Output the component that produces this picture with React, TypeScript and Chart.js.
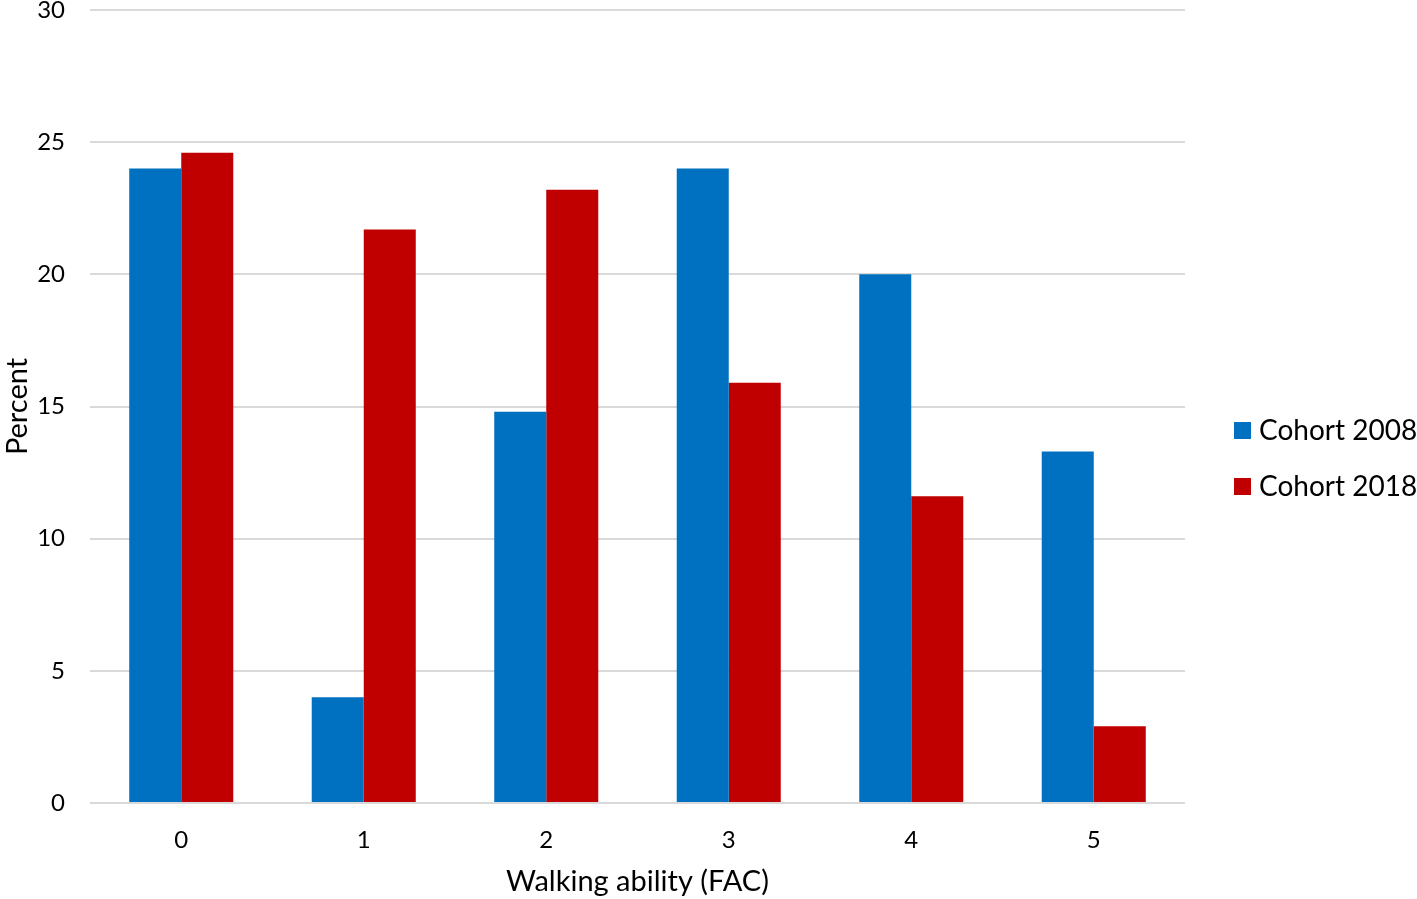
import React, { useEffect, useRef } from "react";
import { Chart, registerables } from "chart.js";

Chart.register(...registerables);

const categories = ["0", "1", "2", "3", "4", "5"];
const cohort2008 = [24, 4, 14.8, 24, 20, 13.3];
const cohort2018 = [24.6, 21.7, 23.2, 15.9, 11.6, 2.9];
const seriesLabels = ["Cohort 2008", "Cohort 2018"];
const seriesColors = ["#0070C0", "#C00000"];
const yTitle = "Percent";
const xTitle = "Walking ability (FAC)";

const FONT = "Lato, 'Open Sans', sans-serif";

const legendPlugin = {
  id: "customLegend",
  afterDraw(chart: any) {
    const ctx = chart.ctx;
    ctx.save();
    ctx.font = `28px ${FONT}`;
    ctx.textBaseline = "middle";
    ctx.textAlign = "left";
    chart.data.datasets.forEach((ds: any, i: number) => {
      const cy = 430 + i * 56;
      ctx.fillStyle = ds.backgroundColor;
      ctx.fillRect(1234, cy - 8, 17, 17);
      ctx.fillStyle = "#000";
      ctx.fillText(ds.label, 1259, cy + 1);
    });
    ctx.restore();
  },
};

export default function App() {
  const ref = useRef<HTMLCanvasElement>(null);
  useEffect(() => {
    if (!ref.current) return;
    const chart = new Chart(ref.current, {
      type: "bar",
      data: {
        labels: categories,
        datasets: [
          { label: seriesLabels[0], data: cohort2008, backgroundColor: seriesColors[0] },
          { label: seriesLabels[1], data: cohort2018, backgroundColor: seriesColors[1] },
        ],
      },
      options: {
        responsive: false,
        animation: false,
        layout: { padding: { left: 0, right: 232, top: 10, bottom: 0 } },
        datasets: { bar: { categoryPercentage: 0.57, barPercentage: 1 } },
        plugins: {
          legend: { display: false },
          tooltip: { enabled: false },
        },
        scales: {
          x: {
            grid: { display: false, drawTicks: false },
            border: { display: false },
            ticks: { color: "#000", font: { family: FONT, size: 24 }, padding: 23 },
            title: { display: true, text: xTitle, color: "#000", font: { family: FONT, size: 29 }, padding: { top: 4, bottom: 0 } },
            afterFit: (s: any) => { s.height = 96; s.paddingLeft = 0; s.paddingRight = 0; },
          },
          y: {
            min: 0,
            max: 30,
            grid: { color: "#D9D9D9", lineWidth: 2, drawTicks: false },
            border: { display: false },
            ticks: { stepSize: 5, color: "#000", font: { family: FONT, size: 24 }, padding: 25 },
            title: { display: true, text: yTitle, color: "#000", font: { family: FONT, size: 29 }, padding: { top: 0, bottom: 0 } },
            afterFit: (s: any) => { s.width = 90; s.paddingTop = 0; s.paddingBottom = 0; },
          },
        },
      },
      plugins: [legendPlugin],
    });
    return () => chart.destroy();
  }, []);
  return (
    <div style={{ position: "fixed", left: 0, top: 0, width: 1417, height: 899, background: "#fff" }}>
      <canvas ref={ref} width={1417} height={899} style={{ display: "block" }} />
    </div>
  );
}
